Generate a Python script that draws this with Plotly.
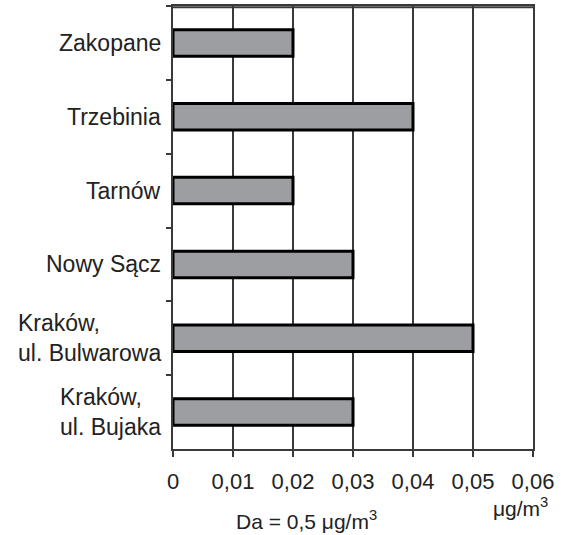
import plotly.graph_objects as go

categories = ["Zakopane", "Trzebinia", "Tarnów", "Nowy Sącz",
              "Kraków, ul. Bulwarowa", "Kraków, ul. Bujaka"]
labels = ["Zakopane", "Trzebinia", "Tarnów", "Nowy Sącz",
          "Kraków,<br>ul. Bulwarowa", "Kraków,<br>ul. Bujaka"]
values = [0.02, 0.04, 0.02, 0.03, 0.05, 0.03]
tick_vals = [0, 0.01, 0.02, 0.03, 0.04, 0.05, 0.06]
tick_text = ["0", "0,01", "0,02", "0,03", "0,04", "0,05", "0,06"]

FONT = "Liberation Sans, Arial, sans-serif"
TXT = "#222222"
LINE = "#3a3a3a"

fig = go.Figure()
fig.add_trace(go.Bar(
    x=values, y=categories, orientation="h", width=0.36,
    marker=dict(color="#9c9ea2", line=dict(color="#000000", width=3)),
    hoverinfo="x+y",
))

for cat, lab in zip(categories, labels):
    fig.add_annotation(x=0, xref="paper", y=cat, yref="y", text=lab,
                       xanchor="right", yanchor="middle", align="left",
                       xshift=-10, showarrow=False,
                       font=dict(family=FONT, size=23, color=TXT))

fig.add_annotation(x=1.047, xref="paper", y=-0.13, yref="paper",
                   text="μg/m<sup>3</sup>", xanchor="right", yanchor="middle",
                   showarrow=False, font=dict(family=FONT, size=21, color=TXT))
fig.add_annotation(x=0.372, xref="paper", y=-0.161, yref="paper",
                   text="Da = 0,5 μg/m<sup>3</sup>", xanchor="center", yanchor="middle",
                   showarrow=False, font=dict(family=FONT, size=21, color=TXT))

fig.add_shape(type="line", xref="paper", yref="paper", x0=0, x1=1, y0=0.997, y1=0.997,
              line=dict(color=LINE, width=2))

fig.update_layout(
    width=566, height=535,
    margin=dict(l=173, r=33, t=6, b=86, autoexpand=False),
    paper_bgcolor="white", plot_bgcolor="white",
    showlegend=False,
    font=dict(family=FONT, size=22, color=TXT),
    xaxis=dict(range=[0, 0.06], tickvals=tick_vals, ticktext=tick_text,
               showgrid=True, gridcolor=LINE, gridwidth=1.5,
               showline=True, linecolor=LINE, linewidth=1.5, mirror=True,
               ticks="outside", ticklen=6, tickcolor=LINE, tickwidth=1.5,
               ticklabelstandoff=6,
               zeroline=False, automargin=False,
               tickfont=dict(family=FONT, size=22, color=TXT)),
    yaxis=dict(autorange="reversed", showticklabels=False, automargin=False,
               showline=True, linecolor=LINE, linewidth=1.5, mirror=True,
               ticks="outside", tickson="boundaries", ticklen=5,
               tickcolor=LINE, tickwidth=1.5, showgrid=False),
)

fig.write_html("out.html", config={"displayModeBar": False},
               post_script="document.body.style.margin='0';document.body.style.padding='0';")
